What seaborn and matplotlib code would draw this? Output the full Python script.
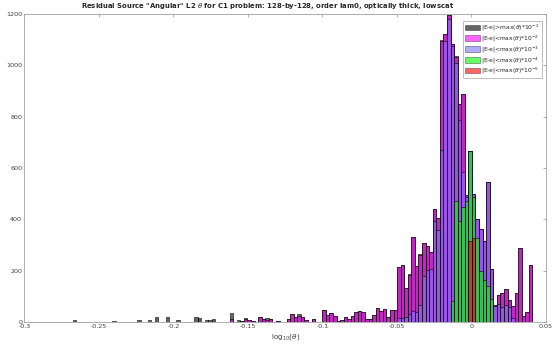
import numpy as np
import pandas as pd
import matplotlib
matplotlib.use("Agg")
import matplotlib.pyplot as plt
from matplotlib.patches import Patch
import seaborn as sns

# Shared binning of log10(theta)
BIN_WIDTH = 0.00239
FIRST_EDGE = 0.0003 - 112 * BIN_WIDTH
N_BINS = 129

# Counts per bin, all cells (drawn underneath everything)
all_counts = [
    7, 0, 0, 0, 0, 0, 0, 0, 0, 0,
    0, 3, 0, 0, 0, 0, 0, 0, 6, 0,
    0, 6, 0, 20, 0, 0, 19, 0, 0, 7,
    0, 0, 0, 0, 21, 14, 0, 6, 7, 13,
    0, 0, 0, 0,
    34, 0, 6, 5, 14, 8, 5, 0, 19, 10,
    15, 12, 0, 5, 0, 0, 12, 32, 19, 32,
    19, 8, 0, 12, 0, 0, 47, 29, 35, 25,
    2, 6, 19, 12, 23, 38, 42, 40, 12, 12,
    27, 55, 44, 49, 20, 47, 48, 216, 223, 133,
    186, 332, 219, 263, 308, 298, 273, 441, 405, 1097,
    1123, 1196, 1084, 1035, 850, 889, 496, 665, 498, 403,
    361, 314, 544, 207, 65, 106, 113, 128, 87, 63,
    113, 288, 24, 37, 223,
]

# |E-e| < max(theta)*1e-2, starting at bin 44
magenta_first = 44
magenta_counts = [
    13, 0, 0, 5, 10, 8, 5, 0, 19, 10,
    8, 12, 0, 5, 0, 0, 12, 32, 19, 23,
    19, 8, 0, 12, 0, 0, 47, 29, 35, 25,
    2, 6, 19, 12, 23, 38, 42, 40, 12, 12,
    27, 55, 44, 49, 20, 47, 48, 215, 222, 132,
    185, 331, 218, 262, 307, 297, 272, 440, 404, 1096,
    1122, 1195, 1083, 1034, 849, 888, 495, 665, 498, 403,
    361, 314, 544, 207, 65, 106, 113, 128, 87, 63,
    113, 288, 24, 37, 223,
]

# |E-e| < max(theta)*1e-3, starting at bin 91
purple_first = 91
purple_counts = [
    14, 14, 21, 30, 42, 40, 66, 179, 201, 206,
    394, 360, 670, 1096, 1180, 1075, 1008, 787, 585, 487,
    665, 498, 403, 361, 314, 544, 207, 61, 70, 60,
    67, 57, 15,
]

# |E-e| < max(theta)*1e-4, starting at bin 106
green_first = 106
green_counts = [83, 470, 395, 447, 472, 665, 487, 329, 197, 165, 139, 90]

# |E-e| < max(theta)*1e-5, starting at bin 111
red_first = 111
red_counts = [317, 329]

labels = [
    r"|E-e|>max($\theta$)*10$^{-2}$",
    r"|E-e|<max($\theta$)*10$^{-2}$",
    r"|E-e|<max($\theta$)*10$^{-3}$",
    r"|E-e|<max($\theta$)*10$^{-4}$",
    r"|E-e|<max($\theta$)*10$^{-5}$",
]
colors = [(0, 0, 0), (1, 0, 1), (0.5, 0.45, 1.0), (0, 1, 0), (1, 0, 0)]

x_ticks = [-0.3, -0.25, -0.2, -0.15, -0.1, -0.05, 0, 0.05]
x_tick_labels = ["-0.3", "-0.25", "-0.2", "-0.15", "-0.1", "-0.05", "0", "0.05"]
y_ticks = [0, 200, 400, 600, 800, 1000, 1200]

sns.set_style("white")
plt.rcParams["font.family"] = ["DejaVu Sans"]

edges = FIRST_EDGE + BIN_WIDTH * np.arange(N_BINS + 1)
centers = edges[:-1] + BIN_WIDTH / 2

fig = plt.figure(figsize=(5.59, 3.46), dpi=100)
ax = fig.add_axes([0.0435, 0.0694, 0.9332, 0.8901])

series = [
    (0, all_counts),
    (magenta_first, magenta_counts),
    (purple_first, purple_counts),
    (green_first, green_counts),
    (red_first, red_counts),
]
for (first, counts), col in zip(series, colors):
    df = pd.DataFrame({
        "theta": centers[first:first + len(counts)],
        "count": np.asarray(counts, dtype=float),
    })
    sns.histplot(data=df, x="theta", weights="count", bins=list(edges),
                 color=col, alpha=0.6, edgecolor="black", linewidth=0.4,
                 ax=ax)

ax.set_xlim(-0.3, 0.05)
ax.set_ylim(0, 1200)
ax.set_xticks(x_ticks)
ax.set_xticklabels(x_tick_labels)
ax.set_yticks(y_ticks)
ax.set_ylabel("")
ax.set_xlabel(r"log$_{10}$($\theta$)", fontsize=5.2, color="#404040", labelpad=2)
fig.text(0.4785, 0.983,
         'Residual Source "Angular" L2 $\\theta$ for C1 problem: 128-by-128, '
         'order lam0, optically thick, lowscat',
         fontsize=4.95, fontweight="bold", ha="center", va="center")

ax.tick_params(axis="both", direction="in", length=2.5, width=0.5,
               labelsize=4.6, colors="#909090", labelcolor="#404040",
               top=True, right=True, pad=1.5)
for s in ax.spines.values():
    s.set_color("#a0a0a0")
    s.set_linewidth(0.6)

handles = [Patch(facecolor=c, edgecolor="black", linewidth=0.4, alpha=0.6)
           for c in colors]
leg = ax.legend(handles, labels, loc="upper right",
                bbox_to_anchor=(0.992, 0.977), borderaxespad=0.0,
                fontsize=4.3, frameon=True, fancybox=False,
                handlelength=2.5, handleheight=1.1, handletextpad=0.3,
                labelspacing=0.08, borderpad=0.3)
leg.get_frame().set_edgecolor("#a0a0a0")
leg.get_frame().set_linewidth(0.6)

fig.savefig("out.png", dpi=100)
